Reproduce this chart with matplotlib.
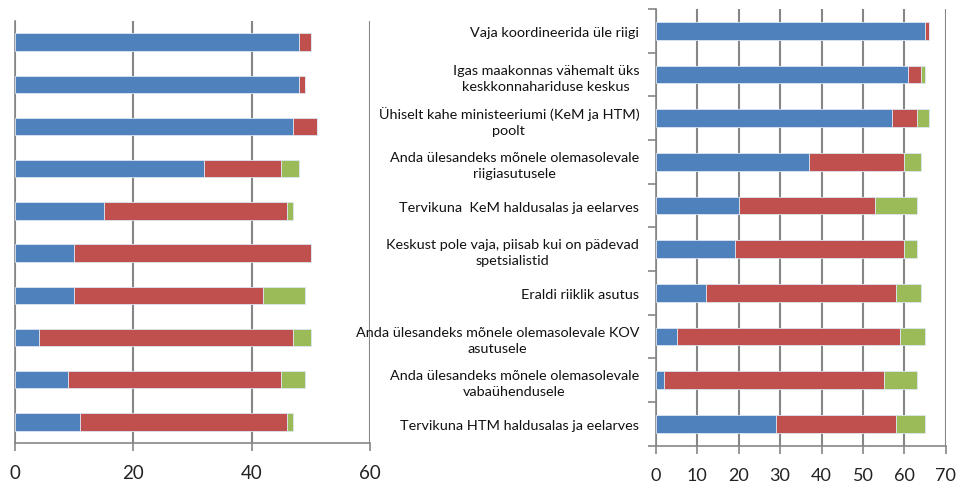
import matplotlib
matplotlib.use("Agg")
import numpy as np
import matplotlib.pyplot as plt

plt.rcParams['font.family'] = ['Lato', 'DejaVu Sans']

# left panel (no category labels), top to bottom
left_blue = [48, 48, 47, 32, 15, 10, 10, 4, 9, 11]
left_red = [2, 1, 4, 13, 31, 40, 32, 43, 36, 35]
left_green = [0, 0, 0, 3, 1, 0, 7, 3, 4, 1]

# right panel, top to bottom
categories = [
    "Vaja koordineerida üle riigi",
    "Igas maakonnas vähemalt üks\nkeskkonnahariduse keskus",
    "Ühiselt kahe ministeeriumi (KeM ja HTM)\npoolt",
    "Anda ülesandeks mõnele olemasolevale\nriigiasutusele",
    "Tervikuna  KeM haldusalas ja eelarves",
    "Keskust pole vaja, piisab kui on pädevad\nspetsialistid",
    "Eraldi riiklik asutus",
    "Anda ülesandeks mõnele olemasolevale KOV\nasutusele",
    "Anda ülesandeks mõnele olemasolevale\nvabaühendusele",
    "Tervikuna HTM haldusalas ja eelarves",
]
right_blue = [65, 61, 57, 37, 20, 19, 12, 5, 2, 29]
right_red = [1, 3, 6, 23, 33, 41, 46, 54, 53, 29]
right_green = [0, 1, 3, 4, 10, 3, 6, 6, 8, 7]

colors = ['#4F81BD', '#C0504D', '#9BBB59']
grid_c = '#868686'

fig = plt.figure(figsize=(9.56, 4.89), dpi=100)
ax1 = fig.add_axes([0.0157, 0.092, 0.3713, 0.863])
ax2 = fig.add_axes([0.686, 0.0865, 0.3033, 0.893])


def draw(ax, blue, red, green, xmax, step):
    n = len(blue)
    y = np.arange(n)
    blue = np.array(blue)
    red = np.array(red)
    green = np.array(green)
    kw = dict(height=0.41, edgecolor='#dce6f2', linewidth=0.6, zorder=3)
    ax.barh(y, blue, color=colors[0], **kw)
    ax.barh(y, red, left=blue, color=colors[1], **kw)
    ax.barh(y, green, left=blue + red, color=colors[2], **kw)
    ax.set_ylim(n - 0.5, -0.5)
    ax.set_xlim(0, xmax)
    ax.set_xticks(np.arange(0, xmax + 1, step))
    ax.xaxis.grid(True, color=grid_c, linewidth=1.5, zorder=0)
    for s in ['top', 'right']:
        ax.spines[s].set_visible(False)
    for s in ['left', 'bottom']:
        ax.spines[s].set_color(grid_c)
        ax.spines[s].set_linewidth(1.2)
    ax.tick_params(axis='x', direction='out', length=6, color=grid_c,
                   width=1.2, pad=9, labelcolor='#222222')


draw(ax1, left_blue, left_red, left_green, 60, 20)
ax1.set_yticks([])
ax1.tick_params(axis='x', labelsize=13.5)

draw(ax2, right_blue, right_red, right_green, 70, 10)
ax2.set_yticks(np.arange(len(categories)))
ax2.set_yticklabels(categories, fontsize=10.4, multialignment='center',
                    linespacing=1.4, color='#111111')
ax2.set_yticks(np.arange(len(categories) + 1) - 0.5, minor=True)
ax2.tick_params(axis='y', which='major', length=0, pad=12)
ax2.tick_params(axis='y', which='minor', length=6, color=grid_c, width=1.2)
ax2.tick_params(axis='x', labelsize=13)

fig.savefig("out.png", dpi=100)
